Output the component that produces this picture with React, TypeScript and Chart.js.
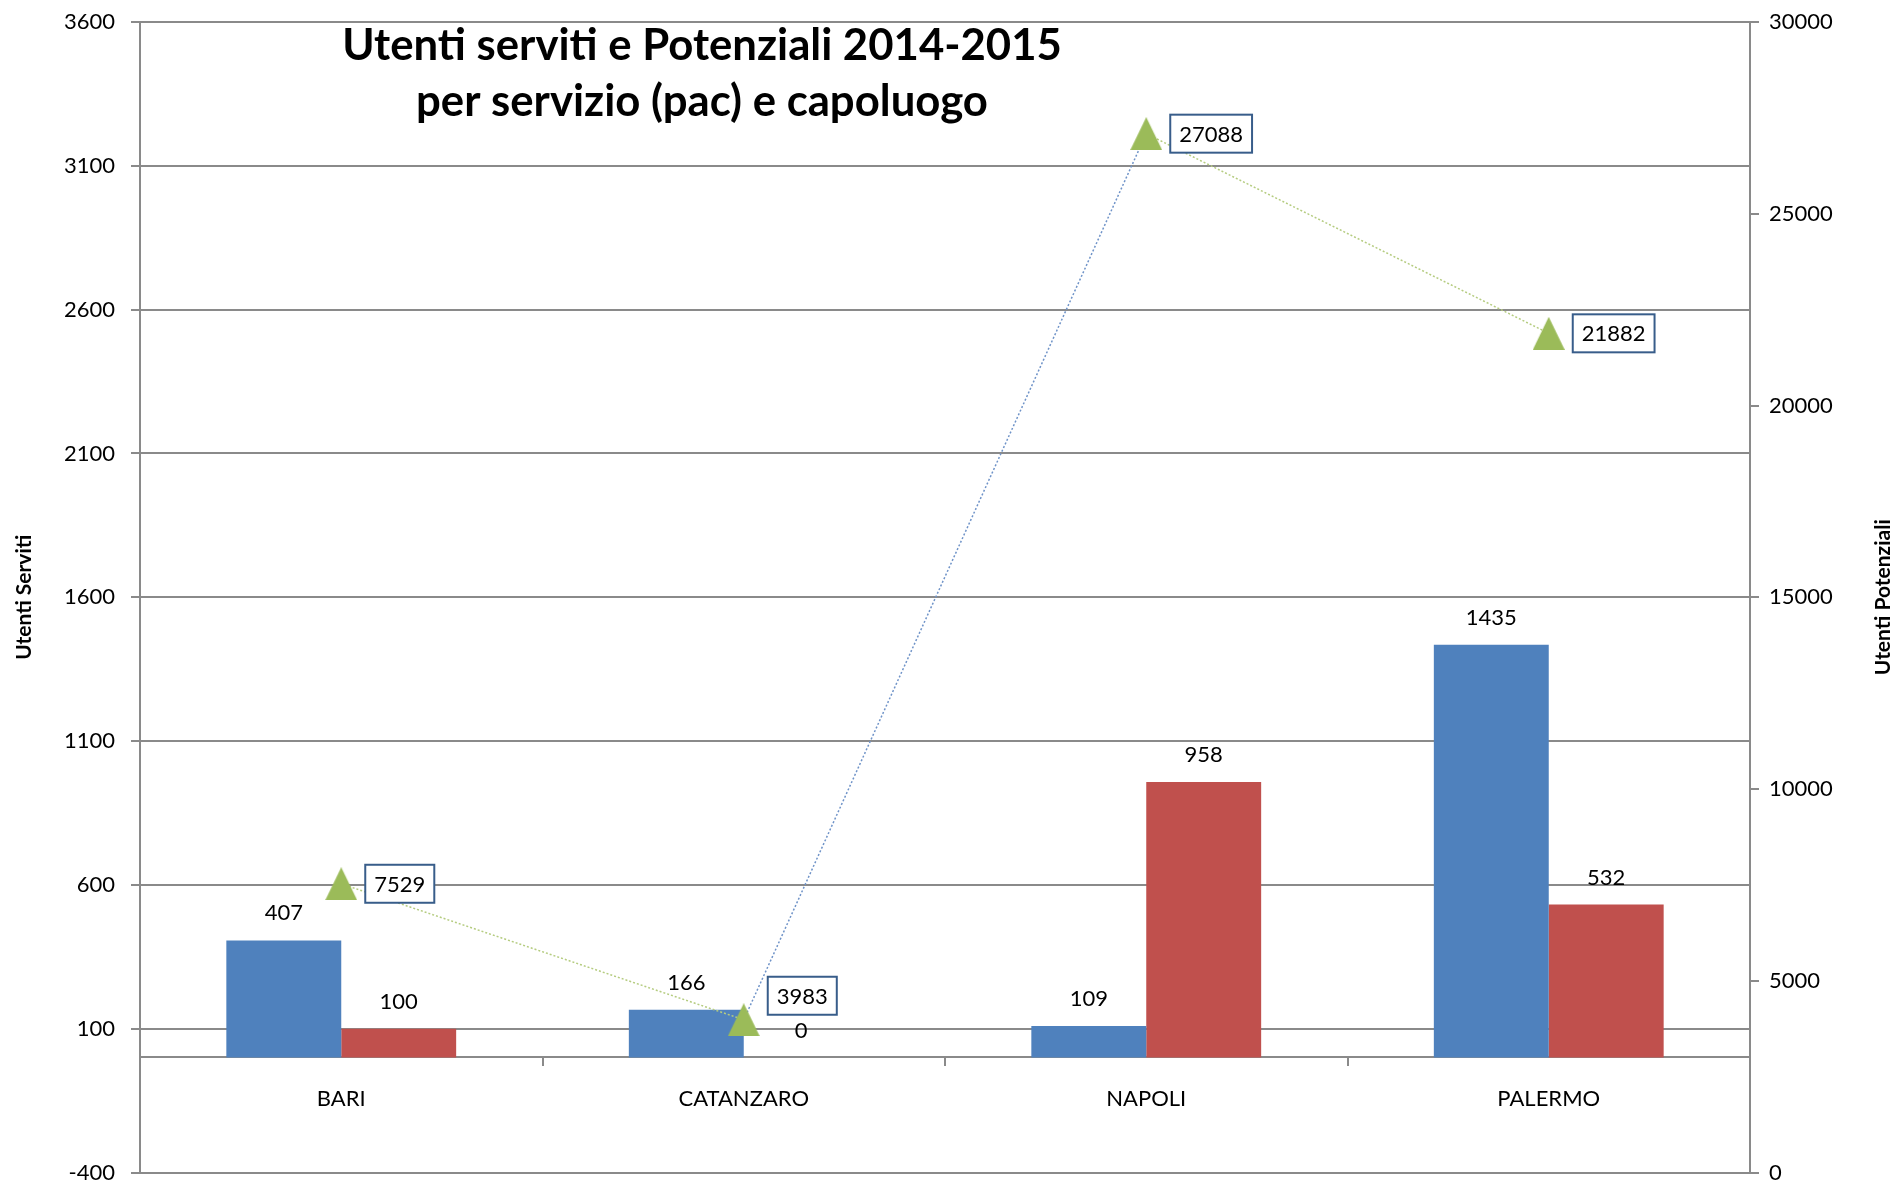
import React, { useEffect, useRef } from "react";
import { Chart, registerables } from "chart.js";

Chart.register(...registerables);

// ---- data ----
const categories = ["BARI", "CATANZARO", "NAPOLI", "PALERMO"];
const utentiServiti = [407, 166, 109, 1435];
const utentiServiti2 = [100, 0, 958, 532];
const utentiPotenziali = [7529, 3983, 27088, 21882];
const leftAxisRange = [-400, 3600];
const leftAxisStep = 500;
const rightAxisRange = [0, 30000];
const rightAxisStep = 5000;
const titleLines = ["Utenti serviti e Potenziali 2014-2015", "per servizio (pac) e capoluogo"];
const leftAxisTitle = "Utenti Serviti";
const rightAxisTitle = "Utenti Potenziali";

// ---- style ----
const FONT = "Lato, 'Open Sans', sans-serif";
const GRID = "#8a8a8a";
const BLUE = "#4F81BD";
const RED = "#C0504D";
const GREEN = "#9BBB59";
const BOX = "#385D8A";

export default function App() {
  const ref = useRef<HTMLCanvasElement>(null);

  useEffect(() => {
    const canvas = ref.current!;
    const tri = document.createElement("canvas");
    tri.width = 32;
    tri.height = 33;
    const tc = tri.getContext("2d")!;
    tc.fillStyle = GREEN;
    tc.beginPath();
    tc.moveTo(16, 0);
    tc.lineTo(32, 33);
    tc.lineTo(0, 33);
    tc.closePath();
    tc.fill();

    const labelShift = [0, -24, 0, 0];

    const labelsPlugin = {
      id: "valueLabels",
      afterDatasetsDraw(chart: any) {
        const ctx = chart.ctx;
        ctx.save();
        ctx.font = `22px ${FONT}`;
        ctx.textAlign = "center";
        ctx.textBaseline = "middle";
        ctx.fillStyle = "#000";
        [1, 2].forEach((di) => {
          const meta = chart.getDatasetMeta(di);
          meta.data.forEach((el: any, i: number) => {
            ctx.fillText(String(chart.data.datasets[di].data[i]), el.x, el.y - 27);
          });
        });
        const lm = chart.getDatasetMeta(0);
        lm.data.forEach((el: any, i: number) => {
          const txt = String(chart.data.datasets[0].data[i]);
          const w = ctx.measureText(txt).width + 18;
          const h = 38;
          const x0 = el.x + 24;
          const cy = el.y + labelShift[i];
          ctx.fillStyle = "#fff";
          ctx.fillRect(x0, cy - h / 2, w, h);
          ctx.strokeStyle = BOX;
          ctx.lineWidth = 2;
          ctx.strokeRect(x0, cy - h / 2, w, h);
          ctx.fillStyle = "#000";
          ctx.fillText(txt, x0 + w / 2, cy + 1);
        });
        ctx.restore();
      },
    };

    const titlesPlugin = {
      id: "titles",
      afterDraw(chart: any) {
        const ctx = chart.ctx;
        const area = chart.chartArea;
        ctx.save();
        ctx.fillStyle = "#000";
        ctx.textAlign = "center";
        ctx.textBaseline = "alphabetic";
        ctx.font = `bold 100px ${FONT}`;
        const wRef = ctx.measureText(titleLines[0]).width;
        const size = (100 * 720) / wRef;
        ctx.font = `bold ${size}px ${FONT}`;
        const cx = area.left + 562;
        ctx.fillText(titleLines[0], cx, area.top + 38);
        ctx.fillText(titleLines[1], cx, area.top + 94);

        const midY = (area.top + area.bottom) / 2;
        ctx.font = `bold 21px ${FONT}`;
        ctx.textBaseline = "middle";
        ctx.save();
        ctx.translate(24, midY);
        ctx.rotate(-Math.PI / 2);
        ctx.fillText(leftAxisTitle, 0, 0);
        ctx.restore();
        ctx.save();
        ctx.translate(1883, midY);
        ctx.rotate(-Math.PI / 2);
        ctx.fillText(rightAxisTitle, 0, 0);
        ctx.restore();
        ctx.restore();
      },
    };

    const tickFont = { family: FONT, size: 22 };
    const plain = (v: any) => String(v);
    const noPad = (s: any) => {
      s.paddingTop = 0;
      s.paddingBottom = 0;
      s.paddingLeft = 0;
      s.paddingRight = 0;
    };

    const chart = new Chart(canvas, {
      type: "bar",
      data: {
        labels: categories,
        datasets: [
          {
            type: "line",
            label: "Utenti Potenziali",
            data: utentiPotenziali,
            yAxisID: "y1",
            xAxisID: "x",
            borderColor: GREEN,
            borderWidth: 1.5,
            borderDash: [2, 2],
            pointStyle: tri as any,
            pointRadius: 12,
            pointHoverRadius: 12,
            fill: false,
            tension: 0,
            order: 0,
            segment: {
              borderColor: (c: any) => (c.p0DataIndex === 1 ? "#6f93c8" : "#b5cc80"),
            },
          } as any,
          {
            type: "bar",
            label: "Utenti Serviti",
            data: utentiServiti,
            backgroundColor: BLUE,
            yAxisID: "y",
            xAxisID: "x",
            barPercentage: 1,
            categoryPercentage: 0.571,
            order: 1,
          },
          {
            type: "bar",
            label: "Utenti Serviti 2",
            data: utentiServiti2,
            backgroundColor: RED,
            yAxisID: "y",
            xAxisID: "x",
            barPercentage: 1,
            categoryPercentage: 0.571,
            order: 1,
          },
        ],
      },
      options: {
        responsive: false,
        animation: false,
        layout: { padding: { left: 0, right: 0, top: 22, bottom: 12 } },
        plugins: {
          legend: { display: false },
          tooltip: { enabled: false },
          title: { display: false },
        },
        scales: {
          x: {
            type: "category",
            position: { y: 0 } as any,
            offset: true,
            grid: {
              display: true,
              offset: true,
              drawOnChartArea: false,
              drawTicks: true,
              tickLength: 8,
              color: GRID,
              lineWidth: 2,
            },
            border: { display: true, color: GRID, width: 2 },
            ticks: { font: tickFont, color: "#000", padding: 20, maxRotation: 0 },
            afterFit: noPad,
          },
          y: {
            type: "linear",
            position: "left",
            min: leftAxisRange[0],
            max: leftAxisRange[1],
            ticks: { stepSize: leftAxisStep, padding: 16, font: tickFont, color: "#000", callback: plain },
            grid: { color: GRID, lineWidth: 2, tickLength: 9, drawTicks: true },
            border: { display: true, color: GRID, width: 2 },
            afterFit: (s: any) => {
              s.width = 140;
              noPad(s);
            },
          },
          y1: {
            type: "linear",
            position: "right",
            min: rightAxisRange[0],
            max: rightAxisRange[1],
            ticks: { stepSize: rightAxisStep, padding: 10, font: tickFont, color: "#000", callback: plain },
            grid: { drawOnChartArea: false, color: GRID, lineWidth: 2, tickLength: 9, drawTicks: true },
            border: { display: true, color: GRID, width: 2 },
            afterFit: (s: any) => {
              s.width = 146;
              noPad(s);
            },
          },
        },
      } as any,
      plugins: [labelsPlugin, titlesPlugin],
    });

    return () => chart.destroy();
  }, []);

  return (
    <canvas
      ref={ref}
      width={1896}
      height={1186}
      style={{ position: "fixed", left: 0, top: 0, width: 1896, height: 1186, background: "#fff" }}
    />
  );
}
